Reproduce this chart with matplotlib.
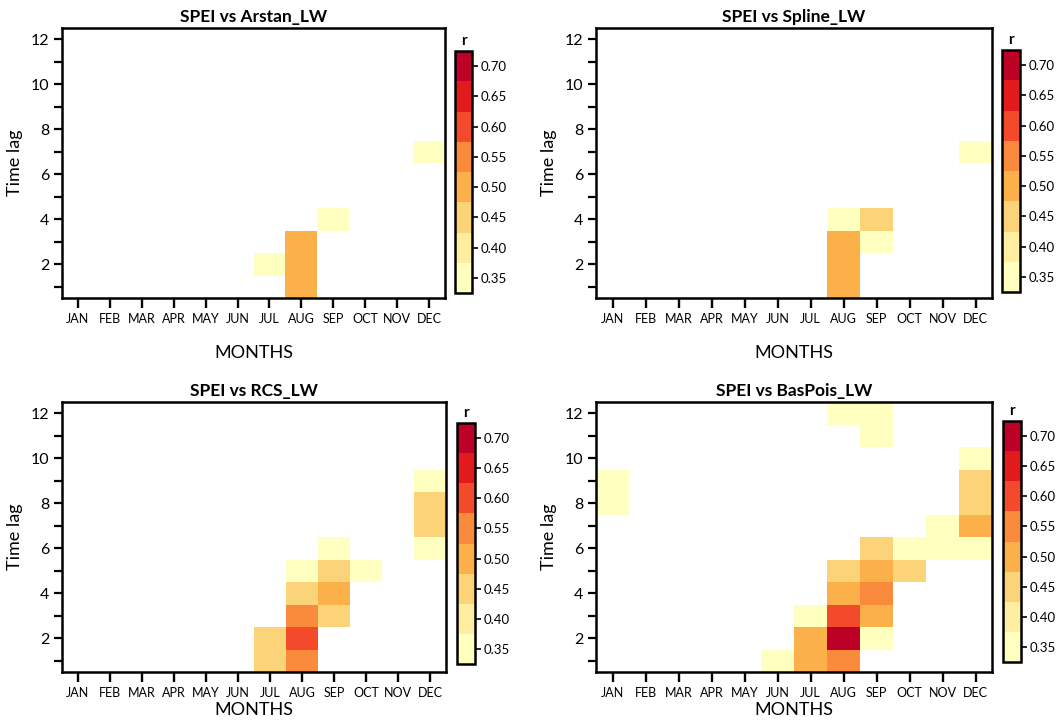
import matplotlib
matplotlib.use("Agg")
import matplotlib.pyplot as plt
import numpy as np
from matplotlib.colors import BoundaryNorm, ListedColormap
import matplotlib.colorbar as mcolorbar

plt.rcParams["font.family"] = ["Lato", "DejaVu Sans"]

MESES = ["JAN", "FEB", "MAR", "APR", "MAY", "JUN", "JUL", "AUG", "SEP", "OCT", "NOV", "DEC"]
LAGS = np.arange(1, 13)

# células significativas: (mês, defasagem, r)
ARSTAN = [("JUL", 2, 0.35), ("AUG", 1, 0.50), ("AUG", 2, 0.50), ("AUG", 3, 0.50),
          ("SEP", 4, 0.35), ("DEC", 7, 0.35)]
SPLINE = [("AUG", 1, 0.50), ("AUG", 2, 0.50), ("AUG", 3, 0.50), ("AUG", 4, 0.35),
          ("SEP", 3, 0.35), ("SEP", 4, 0.45), ("DEC", 7, 0.35)]
RCS = [("JUL", 1, 0.45), ("JUL", 2, 0.45),
       ("AUG", 1, 0.55), ("AUG", 2, 0.62), ("AUG", 3, 0.55), ("AUG", 4, 0.45), ("AUG", 5, 0.35),
       ("SEP", 3, 0.45), ("SEP", 4, 0.50), ("SEP", 5, 0.45), ("SEP", 6, 0.35),
       ("OCT", 5, 0.35),
       ("DEC", 6, 0.35), ("DEC", 7, 0.45), ("DEC", 8, 0.45), ("DEC", 9, 0.35)]
BASPOIS = [("JAN", 8, 0.35), ("JAN", 9, 0.35),
           ("JUN", 1, 0.35),
           ("JUL", 1, 0.50), ("JUL", 2, 0.50), ("JUL", 3, 0.35),
           ("AUG", 1, 0.55), ("AUG", 2, 0.70), ("AUG", 3, 0.62), ("AUG", 4, 0.50), ("AUG", 5, 0.45),
           ("AUG", 12, 0.35),
           ("SEP", 2, 0.35), ("SEP", 3, 0.50), ("SEP", 4, 0.55), ("SEP", 5, 0.50), ("SEP", 6, 0.45),
           ("SEP", 11, 0.35), ("SEP", 12, 0.35),
           ("OCT", 5, 0.45), ("OCT", 6, 0.35),
           ("NOV", 6, 0.35), ("NOV", 7, 0.35),
           ("DEC", 6, 0.35), ("DEC", 7, 0.50), ("DEC", 8, 0.45), ("DEC", 9, 0.45), ("DEC", 10, 0.35)]

TITULOS = ["SPEI vs Arstan_LW", "SPEI vs Spline_LW", "SPEI vs RCS_LW", "SPEI vs BasPois_LW"]
SERIES = [ARSTAN, SPLINE, RCS, BASPOIS]

CLASSES_R = [0.35, 0.40, 0.45, 0.50, 0.55, 0.60, 0.65, 0.70]
CORES = ["#ffffc0", "#ffeda0", "#fbd47a", "#fcb04a", "#fb8b3c", "#f24a2a", "#e31a1c", "#bd0026"]

cmap = ListedColormap(CORES)
limites = np.concatenate([[CLASSES_R[0] - 0.025], np.array(CLASSES_R) + 0.025])
norm = BoundaryNorm(limites, cmap.N)

# posições em pixels -> fração da figura
W, H = 1057, 722


def _ret(x0, y0, x1, y1):
    return [x0 / W, 1 - y1 / H, (x1 - x0) / W, (y1 - y0) / H]


EIXOS = [_ret(62, 28, 445, 298), _ret(596, 28, 992, 298),
         _ret(62, 402, 446, 672), _ret(596, 402, 992, 672)]
BARRAS = [_ret(455, 51, 472, 293), _ret(1002, 50, 1020, 292),
          _ret(457, 423, 475, 664), _ret(1003, 421, 1021, 662)]
PAD_MESES = [14, 14, 2, 2]


def _grade(celulas):
    z = np.full((len(LAGS), len(MESES)), np.nan)
    for mes, lag, r in celulas:
        z[lag - 1, MESES.index(mes)] = r
    return np.ma.masked_invalid(z)


fig = plt.figure(figsize=(W / 100, H / 100), dpi=100)

for i, (titulo, celulas) in enumerate(zip(TITULOS, SERIES)):
    ax = fig.add_axes(EIXOS[i])
    x_bordas = np.arange(len(MESES) + 1) + 0.5
    y_bordas = np.arange(len(LAGS) + 1) + 0.5
    ax.pcolormesh(x_bordas, y_bordas, _grade(celulas), cmap=cmap, norm=norm)
    ax.set_xlim(0.5, 12.5)
    ax.set_ylim(0.5, 12.5)
    ax.set_xticks(np.arange(1, 13))
    ax.set_xticklabels(MESES, fontsize=9)
    ax.set_yticks(LAGS)
    ax.set_yticklabels([str(v) if v % 2 == 0 else "" for v in LAGS], fontsize=11.5)
    ax.tick_params(axis="x", direction="out", length=7, width=1.7, pad=4)
    ax.tick_params(axis="y", direction="out", length=6, width=1.6, pad=3)
    for s in ax.spines.values():
        s.set_linewidth(1.8)
    ax.set_title(titulo, fontsize=12.5, fontweight="bold", pad=4)
    ax.set_xlabel("MONTHS", fontsize=13, labelpad=PAD_MESES[i])
    ax.set_ylabel("Time lag", fontsize=13, labelpad=6)

    cax = fig.add_axes(BARRAS[i])
    cb = mcolorbar.ColorbarBase(cax, cmap=cmap, norm=norm, boundaries=limites,
                                ticks=CLASSES_R, spacing="uniform")
    cb.ax.minorticks_off()
    cb.ax.set_yticklabels([f"{v:.2f}" for v in CLASSES_R], fontsize=9.5)
    cb.ax.tick_params(length=4, width=1.2, pad=2)
    cb.outline.set_linewidth(1.8)
    cax.set_title("r", fontsize=11, fontweight="bold", pad=4)

fig.savefig("out.png", dpi=100)
plt.close(fig)
